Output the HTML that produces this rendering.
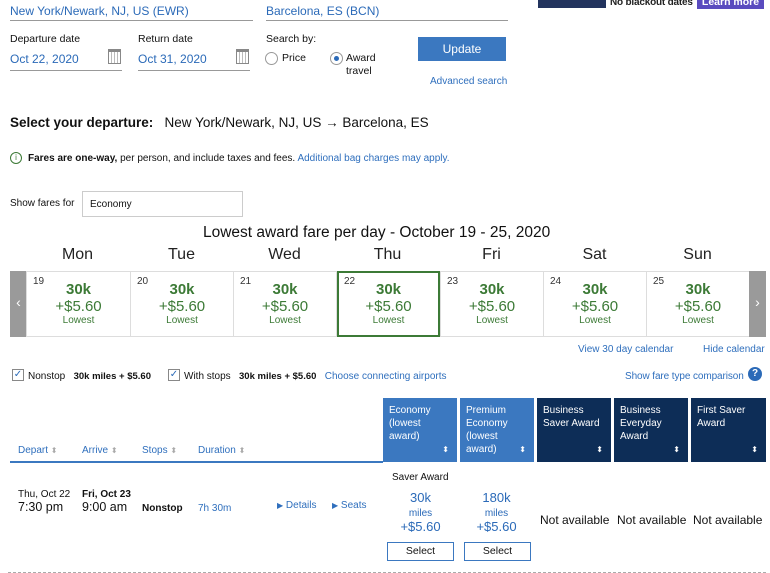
<!DOCTYPE html>
<html><head><meta charset="utf-8">
<style>
*{margin:0;padding:0;box-sizing:border-box}
body{width:770px;height:573px;overflow:hidden;background:#fff;font-family:"Liberation Sans","DejaVu Sans",sans-serif;color:#111;position:relative}
.a{position:absolute;white-space:nowrap}
.blue{color:#2b6ab8}
.lnk{color:#2f6fbd;font-size:10px}
.line{position:absolute;height:1px;background:#999}
.cell{position:absolute;top:271px;height:66px;border:1px solid #ddd;text-align:center;color:#3c7a36}
.cell .d{position:absolute;left:6px;top:4px;font-size:10px;color:#333}
.cell .k{margin-top:10px;font-size:15px;font-weight:bold;line-height:16px}
.cell .p{font-size:15px;line-height:17px}
.cell .l{font-size:10px;line-height:11px}
.day{position:absolute;top:246px;font-size:16px;width:103px;text-align:center;color:#222}
.th{position:absolute;top:398px;height:64px;color:#fff;font-size:10px;line-height:13px;padding:6px 6px}
.th .s{position:absolute;right:8px;bottom:6px;font-size:8px}
.sel{position:absolute;top:542px;width:67px;height:19px;border:1px solid #3b78c0;font-size:10.5px;text-align:center;line-height:17px;color:#111}
</style></head><body>
<div class="a" style="left:538px;top:-4px;width:68px;height:12px;background:#23345e"></div>
<div class="a" style="left:610px;top:-3px;font-size:10px;font-weight:bold;color:#222;letter-spacing:-0.2px">No blackout dates</div>
<div class="a" style="left:697px;top:-4px;width:67px;height:13px;background:#5a4bbf;color:#fff;font-size:10.5px;font-weight:bold;text-align:center;line-height:13px">Learn more</div>

<div class="a blue" style="left:10px;top:4px;font-size:12px">New York/Newark, NJ, US (EWR)</div>
<div class="line" style="left:10px;top:20px;width:243px"></div>
<div class="a blue" style="left:266px;top:4px;font-size:12px">Barcelona, ES (BCN)</div>
<div class="line" style="left:266px;top:20px;width:242px"></div>

<div class="a" style="left:10px;top:33px;font-size:10.5px">Departure date</div>
<div class="a blue" style="left:10px;top:52px;font-size:12px">Oct 22, 2020</div>
<div class="a" style="left:108px;top:49px;width:13px;height:15px;border:1px solid #888;border-top:3px solid #888;background:repeating-linear-gradient(90deg,#fff 0 2px,#bbb 2px 3px)"></div>
<div class="line" style="left:10px;top:70px;width:112px"></div>
<div class="a" style="left:138px;top:33px;font-size:10.5px">Return date</div>
<div class="a blue" style="left:138px;top:52px;font-size:12px">Oct 31, 2020</div>
<div class="a" style="left:236px;top:49px;width:13px;height:15px;border:1px solid #888;border-top:3px solid #888;background:repeating-linear-gradient(90deg,#fff 0 2px,#bbb 2px 3px)"></div>
<div class="line" style="left:138px;top:70px;width:112px"></div>

<div class="a" style="left:266px;top:33px;font-size:10.5px">Search by:</div>
<div class="a" style="left:265px;top:52px;width:13px;height:13px;border:1px solid #999;border-radius:50%"></div>
<div class="a" style="left:282px;top:52px;font-size:10.5px">Price</div>
<div class="a" style="left:330px;top:52px;width:13px;height:13px;border:1px solid #999;border-radius:50%"></div>
<div class="a" style="left:334px;top:56px;width:5px;height:5px;border-radius:50%;background:#2b6ab8"></div>
<div class="a" style="left:346px;top:52px;font-size:10.5px;line-height:13px">Award<br>travel</div>

<div class="a" style="left:418px;top:37px;width:88px;height:24px;background:#3b78c0;color:#fff;font-size:12px;text-align:center;line-height:24px">Update</div>
<div class="a lnk" style="left:430px;top:76px">Advanced search</div>

<div class="a" style="left:10px;top:115px;font-size:13.5px"><b>Select your departure:</b>&nbsp;&nbsp; New York/Newark, NJ, US → Barcelona, ES</div>

<div class="a" style="left:10px;top:152px;width:12px;height:12px;border:1px solid #3c7a36;border-radius:50%;font-size:8px;color:#3c7a36;text-align:center;line-height:10px">i</div>
<div class="a" style="left:28px;top:153px;font-size:10px"><b>Fares are one-way,</b> per person, and include taxes and fees. <span style="color:#2f6fbd">Additional bag charges may apply.</span></div>

<div class="a" style="left:10px;top:198px;font-size:10px">Show fares for</div>
<div class="a" style="left:82px;top:191px;width:161px;height:26px;border:1px solid #ccc;font-size:10px;padding:7px 7px">Economy</div>

<div class="a" style="left:203px;top:224px;font-size:15.5px;color:#111">Lowest award fare per day - October 19 - 25, 2020</div>
<div class="day" style="left:26px">Mon</div>
<div class="day" style="left:130px">Tue</div>
<div class="day" style="left:233px">Wed</div>
<div class="day" style="left:336px">Thu</div>
<div class="day" style="left:440px">Fri</div>
<div class="day" style="left:543px">Sat</div>
<div class="day" style="left:646px">Sun</div>

<div class="a" style="left:10px;top:271px;width:17px;height:66px;background:#9a9a9a;color:#fff;font-size:14px;text-align:center;line-height:62px">‹</div>
<div class="cell" style="left:26px;width:105px"><span class="d">19</span><div class="k">30k</div><div class="p">+$5.60</div><div class="l">Lowest</div></div>
<div class="cell" style="left:130px;width:104px"><span class="d">20</span><div class="k">30k</div><div class="p">+$5.60</div><div class="l">Lowest</div></div>
<div class="cell" style="left:233px;width:104px"><span class="d">21</span><div class="k">30k</div><div class="p">+$5.60</div><div class="l">Lowest</div></div>
<div class="cell" style="left:543px;width:104px"><span class="d">24</span><div class="k">30k</div><div class="p">+$5.60</div><div class="l">Lowest</div></div>
<div class="cell" style="left:646px;width:104px"><span class="d">25</span><div class="k">30k</div><div class="p">+$5.60</div><div class="l">Lowest</div></div>
<div class="cell" style="left:440px;width:104px"><span class="d">23</span><div class="k">30k</div><div class="p">+$5.60</div><div class="l">Lowest</div></div>
<div class="cell" style="left:337px;width:103px;border:2px solid #3c7a36"><span class="d" style="left:5px;top:3px">22</span><div class="k" style="margin-top:9px">30k</div><div class="p">+$5.60</div><div class="l">Lowest</div></div>
<div class="a" style="left:749px;top:271px;width:17px;height:66px;background:#9a9a9a;color:#fff;font-size:14px;text-align:center;line-height:62px">›</div>

<div class="a lnk" style="left:578px;top:344px">View 30 day calendar</div>
<div class="a lnk" style="left:703px;top:344px">Hide calendar</div>

<div class="a" style="left:12px;top:369px;width:12px;height:12px;border:1px solid #888;font-size:10px;color:#2b6ab8;line-height:10px;text-align:center">✓</div>
<div class="a" style="left:28px;top:371px;font-size:10px">Nonstop&nbsp;&nbsp; <b style="font-size:9.5px">30k miles + $5.60</b></div>
<div class="a" style="left:168px;top:369px;width:12px;height:12px;border:1px solid #888;font-size:10px;color:#2b6ab8;line-height:10px;text-align:center">✓</div>
<div class="a" style="left:184px;top:371px;font-size:10px">With stops&nbsp;&nbsp; <b style="font-size:9.5px">30k miles + $5.60</b>&nbsp;&nbsp; <span style="color:#2f6fbd;font-size:10px">Choose connecting airports</span></div>
<div class="a lnk" style="left:625px;top:371px;letter-spacing:-0.1px">Show fare type comparison</div>
<div class="a" style="left:748px;top:367px;width:14px;height:14px;border-radius:50%;background:#2b6ab8;color:#fff;font-size:10px;font-weight:bold;text-align:center;line-height:14px">?</div>

<div class="th" style="left:383px;width:74px;background:#3b78c0">Economy<br>(lowest<br>award)<span class="s">⬍</span></div>
<div class="th" style="left:460px;width:74px;background:#3b78c0">Premium<br>Economy<br>(lowest<br>award)<span class="s">⬍</span></div>
<div class="th" style="left:537px;width:74px;background:#0d2d57">Business<br>Saver Award<span class="s">⬍</span></div>
<div class="th" style="left:614px;width:74px;background:#0d2d57">Business<br>Everyday<br>Award<span class="s">⬍</span></div>
<div class="th" style="left:691px;width:75px;background:#0d2d57">First Saver<br>Award<span class="s">⬍</span></div>

<div class="a lnk" style="left:18px;top:445px">Depart <span style="color:#aaa;font-size:8px">⬍</span></div>
<div class="a lnk" style="left:82px;top:445px">Arrive <span style="color:#aaa;font-size:8px">⬍</span></div>
<div class="a lnk" style="left:142px;top:445px">Stops <span style="color:#aaa;font-size:8px">⬍</span></div>
<div class="a lnk" style="left:198px;top:445px">Duration <span style="color:#aaa;font-size:8px">⬍</span></div>
<div class="a" style="left:10px;top:461px;width:373px;height:2px;background:#3b78c0"></div>

<div class="a" style="left:18px;top:489px;font-size:10px">Thu, Oct 22</div>
<div class="a" style="left:18px;top:500px;font-size:12.5px">7:30 pm</div>
<div class="a" style="left:82px;top:489px;font-size:10px;font-weight:bold">Fri, Oct 23</div>
<div class="a" style="left:82px;top:500px;font-size:12.5px">9:00 am</div>
<div class="a" style="left:142px;top:503px;font-size:10px;font-weight:bold">Nonstop</div>
<div class="a lnk" style="left:198px;top:503px">7h 30m</div>
<div class="a lnk" style="left:277px;top:500px"><span style="font-size:8px">▶</span> Details</div>
<div class="a lnk" style="left:332px;top:500px"><span style="font-size:8px">▶</span> Seats</div>

<div class="a" style="left:392px;top:472px;font-size:10px">Saver Award</div>
<div class="a blue" style="left:387px;top:491px;width:67px;text-align:center;font-size:13px;line-height:14px">30k<br><span style="font-size:10px;line-height:11px">miles</span></div>
<div class="a blue" style="left:387px;top:519px;width:67px;text-align:center;font-size:13px">+$5.60</div>
<div class="a blue" style="left:463px;top:491px;width:67px;text-align:center;font-size:13px;line-height:14px">180k<br><span style="font-size:10px;line-height:11px">miles</span></div>
<div class="a blue" style="left:463px;top:519px;width:67px;text-align:center;font-size:13px">+$5.60</div>
<div class="sel" style="left:387px">Select</div>
<div class="sel" style="left:464px">Select</div>
<div class="a" style="left:540px;top:513px;font-size:12px">Not available</div>
<div class="a" style="left:617px;top:513px;font-size:12px">Not available</div>
<div class="a" style="left:693px;top:513px;font-size:12px">Not available</div>

<div class="a" style="left:8px;top:572px;width:758px;border-top:1px dashed #aaa"></div>
</body></html>
